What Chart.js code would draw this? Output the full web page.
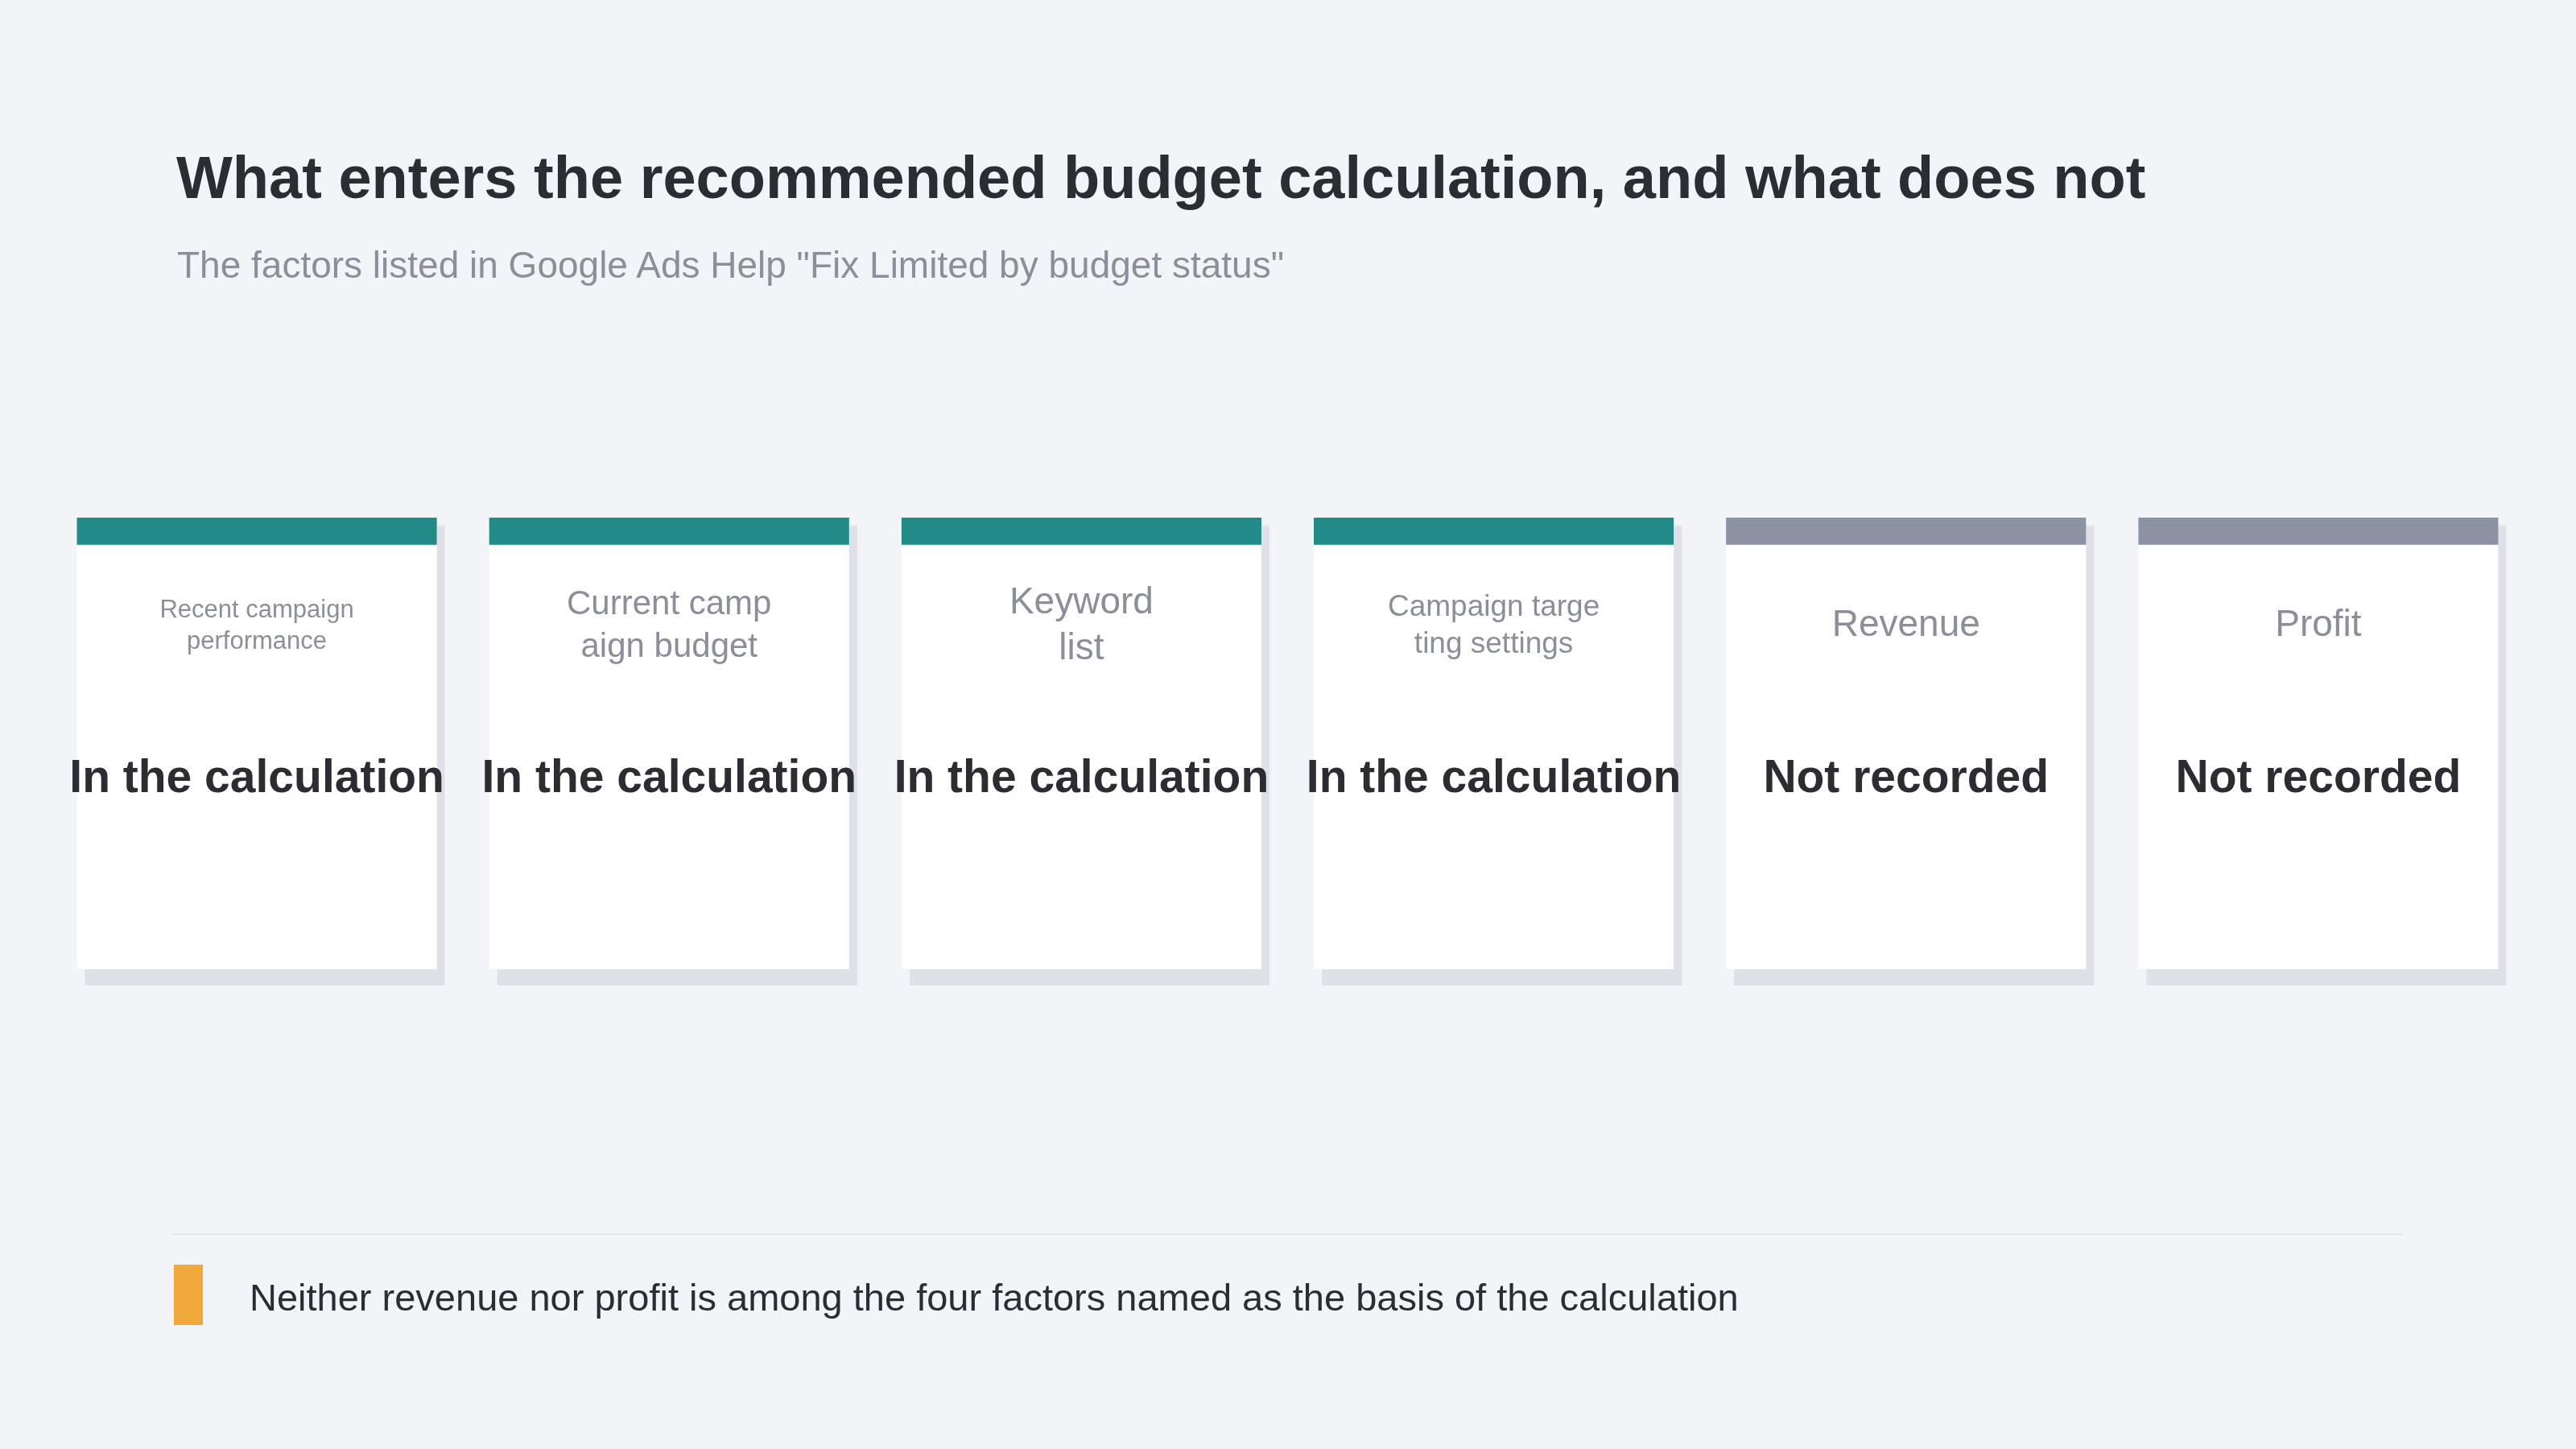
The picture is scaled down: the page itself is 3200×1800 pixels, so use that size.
<!DOCTYPE html>
<html><head><meta charset="utf-8">
<script src="https://cdn.jsdelivr.net/npm/chart.js@4"></script>
<style>
html,body{margin:0;padding:0;background:#f3f4f8;width:3200px;height:1800px;overflow:hidden;font-family:"Liberation Sans",Arial,sans-serif}
#wrap{position:absolute;left:0;top:0;width:3200px;height:1800px}
.t{position:absolute;white-space:nowrap}
</style></head><body>
<div id="wrap"><canvas id="c" width="3200" height="1800"></canvas></div>
<div class="t" style="left:219px;top:178px;font-size:74px;font-weight:bold;color:#2b2d33">What enters the recommended budget calculation, and what does not</div>
<div class="t" style="left:220px;top:302px;font-size:46px;color:#8a8f99">The factors listed in Google Ads Help "Fix Limited by budget status"</div>
<div style="position:absolute;left:214px;top:1532px;width:2770px;height:2px;background:#e6e7ec"></div>
<div style="position:absolute;left:216px;top:1571px;width:36px;height:75px;background:#f2a93b"></div>
<div class="t" style="left:310px;top:1584px;font-size:47px;color:#2b2d33">Neither revenue nor profit is among the four factors named as the basis of the calculation</div>
<script>
const categories = ["Recent campaign performance","Current campaign budget","Keyword list","Campaign targeting settings","Revenue","Profit"];
const labelLines = [["Recent campaign","performance"],["Current camp","aign budget"],["Keyword","list"],["Campaign targe","ting settings"],["Revenue"],["Profit"]];
const labelSizes = [31,42,46,37,46,46];
const statusText = ["In the calculation","In the calculation","In the calculation","In the calculation","Not recorded","Not recorded"];
const inCalc = [true,true,true,true,false,false];
const cardValue = [1,1,1,1,1,1];
const stripValue = [[0.94,1],[0.94,1],[0.94,1],[0.94,1],[0.94,1],[0.94,1]];

const shadowPlugin = {
  id:'shadow',
  beforeDatasetDraw(chart,args){
    if(args.index!==0) return;
    const ctx=chart.ctx;
    ctx.save();ctx.fillStyle='#e0e1e8';
    args.meta.data.forEach(b=>{
      const w=b.width;ctx.fillRect(b.x-w/2+10,b.y+10,w,b.base-b.y+10-10+10);
    });
    ctx.restore();
  }
};
const textPlugin = {
  id:'texts',
  afterDatasetsDraw(chart){
    const ctx=chart.ctx, x=chart.scales.x, y=chart.scales.y;
    ctx.save();ctx.textAlign='center';ctx.textBaseline='middle';
    categories.forEach((c,i)=>{
      const cx=x.getPixelForValue(i);
      const fs=labelSizes[i];
      ctx.fillStyle='#8a8f99';ctx.font=fs+'px "Liberation Sans", Arial, sans-serif';
      const lines=labelLines[i];
      const startY=y.getPixelForValue(0.76)-(lines.length-1)*fs*0.62;
      lines.forEach((l,k)=>ctx.fillText(l,cx,startY+k*fs*1.25));
      ctx.fillStyle='#2b2d33';ctx.font='bold 57px "Liberation Sans", Arial, sans-serif';
      ctx.fillText(statusText[i],cx,y.getPixelForValue(0.42));
    });
    ctx.restore();
  }
};
new Chart(document.getElementById('c'),{
  type:'bar',
  data:{labels:categories,datasets:[
    {data:cardValue,backgroundColor:'#ffffff',barPercentage:0.873,categoryPercentage:1,grouped:false,order:2},
    {data:stripValue,backgroundColor:inCalc.map(v=>v?'#228a87':'#8b92a1'),barPercentage:0.873,categoryPercentage:1,grouped:false,order:1}
  ]},
  options:{responsive:false,animation:false,devicePixelRatio:1,
    layout:{padding:{left:63,right:64,top:643,bottom:596}},
    plugins:{legend:{display:false},tooltip:{enabled:false}},
    scales:{x:{display:false},y:{display:false,min:0,max:1}}},
  plugins:[shadowPlugin,textPlugin]
});
</script>
</body></html>
